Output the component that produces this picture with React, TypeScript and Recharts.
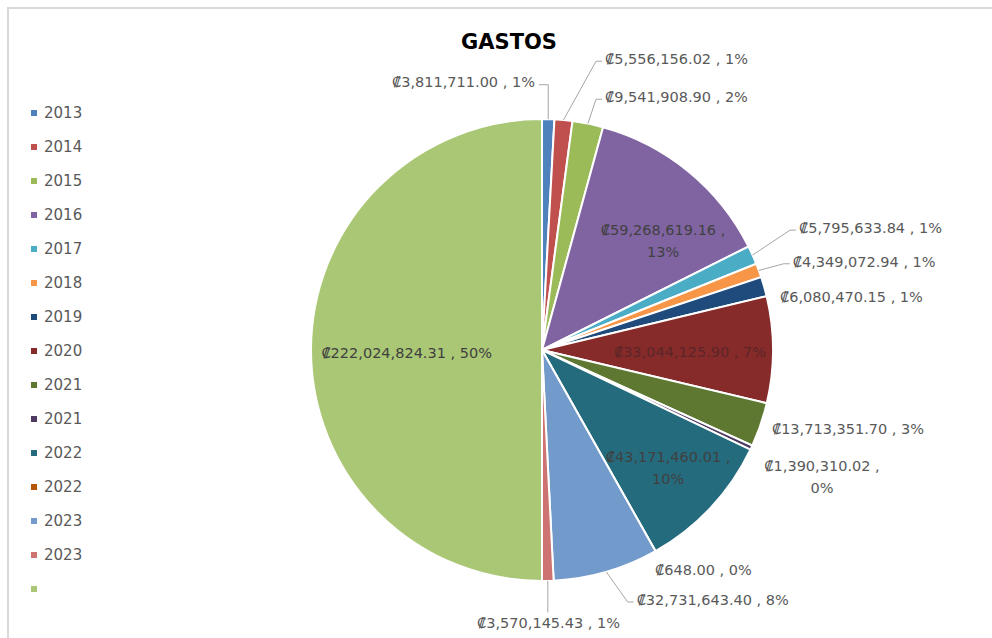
import { PieChart, Pie, Cell } from "recharts";

// GASTOS per year (colones)
const years = ["2013", "2014", "2015", "2016", "2017", "2018", "2019", "2020", "2021", "2021", "2022", "2022", "2023", "2023", ""];
const amounts = [
  3811711.0, 5556156.02, 9541908.9, 59268619.16, 5795633.84, 4349072.94, 6080470.15,
  33044125.9, 13713351.7, 1390310.02, 43171460.01, 648.0, 32731643.4, 3570145.43, 222024824.31,
];
const shares = ["1%", "1%", "2%", "13%", "1%", "1%", "1%", "7%", "3%", "0%", "10%", "0%", "8%", "1%", "50%"];
const colors = [
  "#4F81BD", "#C0504D", "#9BBB59", "#8064A2", "#4BACC6", "#F79646", "#1F4A7C",
  "#862A2A", "#5E7831", "#4D3B62", "#256B7E", "#B65708", "#729ACA", "#CD7371", "#AAC775",
];

// where each data label sits (Excel-style placement)
const labelLayout: any[] = [
  { at: "out", dx: -13.6, dy: -25.4, anchor: "end", leader: "left" },
  { at: "out", dx: 40.4, dy: -48.8, anchor: "start", leader: "right" },
  { at: "out", dx: 14.7, dy: -14.6, anchor: "start", leader: "right" },
  { at: "in", r: 157, dx: 21.5, dy: 11, anchor: "middle", wrap: true },
  { at: "out", dx: 35.5, dy: -22, anchor: "start", leader: "right" },
  { at: "out", dx: 22.6, dy: -4.5, anchor: "start", leader: "right" },
  { at: "out", dx: 4.3, dy: 14, anchor: "start" },
  { at: "in", r: 148, dx: 0, dy: 2, anchor: "middle", color: "#5C2628" },
  { at: "out", dx: 0, dy: 0, anchor: "start" },
  { at: "out", dx: 59.8, dy: 23.3, anchor: "middle", wrap: true },
  { at: "in", r: 174.5, dx: -1.4, dy: -2.5, anchor: "middle", wrap: true },
  { at: "out", dx: -6.4, dy: 8.3, anchor: "start" },
  { at: "out", dx: 27, dy: 16.6, anchor: "start", leader: "right" },
  { at: "out", dx: 0.4, dy: 30.4, anchor: "middle", leader: "down" },
  { at: "in", r: 117, dx: -18.3, dy: 2.7, anchor: "middle" },
];

const data = years.map((name, i) => ({ name, value: amounts[i] }));

const money = (v: number) =>
  "₡" + v.toLocaleString("en-US", { minimumFractionDigits: 2, maximumFractionDigits: 2 });

const RAD = Math.PI / 180;
const polar = (cx: number, cy: number, r: number, angle: number) => ({
  x: cx + r * Math.cos(angle * RAD),
  y: cy - r * Math.sin(angle * RAD),
});

const renderLabel = (props: any) => {
  const { cx, cy, midAngle, outerRadius, index } = props;
  const cfg = labelLayout[index];
  const base = polar(cx, cy, cfg.at === "in" ? cfg.r : outerRadius + 12, midAngle);
  const tx = base.x + cfg.dx;
  const ty = base.y + cfg.dy;
  const edge = polar(cx, cy, outerRadius, midAngle);
  const fill = cfg.color || (cfg.at === "in" ? "#404040" : "#595959");

  let pts: number[][] | null = null;
  if (cfg.leader === "right") pts = [[edge.x, edge.y], [tx - 9, ty + 2], [tx - 3, ty + 2]];
  if (cfg.leader === "left") pts = [[edge.x, edge.y], [edge.x, ty + 3], [tx + 4, ty + 3]];
  if (cfg.leader === "down") pts = [[edge.x, edge.y], [edge.x, ty - 11]];

  const txt = money(amounts[index]);
  return (
    <g key={`lbl-${index}`}>
      {pts && (
        <polyline points={pts.map((p) => p.join(",")).join(" ")} fill="none" stroke="#A6A6A6" strokeWidth={1} />
      )}
      {cfg.wrap ? (
        <text x={tx} y={ty} textAnchor={cfg.anchor} fill={fill} fontSize={14.5} fontFamily="DejaVu Sans">
          <tspan x={tx} dy={-5}>{`${txt} ,`}</tspan>
          <tspan x={tx} dy={22}>{shares[index]}</tspan>
        </text>
      ) : (
        <text x={tx} y={ty} dy={5} textAnchor={cfg.anchor} fill={fill} fontSize={14.5} fontFamily="DejaVu Sans">
          {`${txt} , ${shares[index]}`}
        </text>
      )}
    </g>
  );
};

export default function App() {
  return (
    <div
      style={{
        position: "fixed",
        left: 0,
        top: 0,
        width: 992,
        height: 638,
        background: "#fff",
        overflow: "hidden",
        fontFamily: "DejaVu Sans",
      }}
    >
      <div
        style={{
          position: "absolute",
          left: 7,
          top: 7,
          width: 1100,
          height: 800,
          borderTop: "2px solid #D9D9D9",
          borderLeft: "2px solid #D9D9D9",
        }}
      />
      <div
        style={{
          position: "absolute",
          left: 409,
          top: 29,
          width: 200,
          textAlign: "center",
          fontSize: 21,
          fontWeight: "bold",
          color: "#000",
          lineHeight: "26px",
        }}
      >
        GASTOS
      </div>

      {/* legend */}
      {years.map((y, i) => (
        <div key={i} style={{ position: "absolute", left: 31, top: 113 + i * 34 - 10, height: 20, display: "flex", alignItems: "center" }}>
          <div style={{ width: 6, height: 6, background: colors[i], marginRight: 7 }} />
          <span style={{ fontSize: 15, color: "#595959" }}>{y}</span>
        </div>
      ))}

      <div style={{ position: "absolute", left: 0, top: 0 }}>
        <PieChart width={992} height={638} margin={{ top: 0, right: 0, bottom: 0, left: 0 }}>
          <Pie
            data={data}
            dataKey="value"
            nameKey="name"
            cx={542}
            cy={350}
            outerRadius={231}
            startAngle={90}
            endAngle={-270}
            stroke="#fff"
            strokeWidth={2}
            labelLine={false}
            label={renderLabel}
            isAnimationActive={false}
          >
            {data.map((_, i) => (
              <Cell key={i} fill={colors[i]} />
            ))}
          </Pie>
        </PieChart>
      </div>
    </div>
  );
}
